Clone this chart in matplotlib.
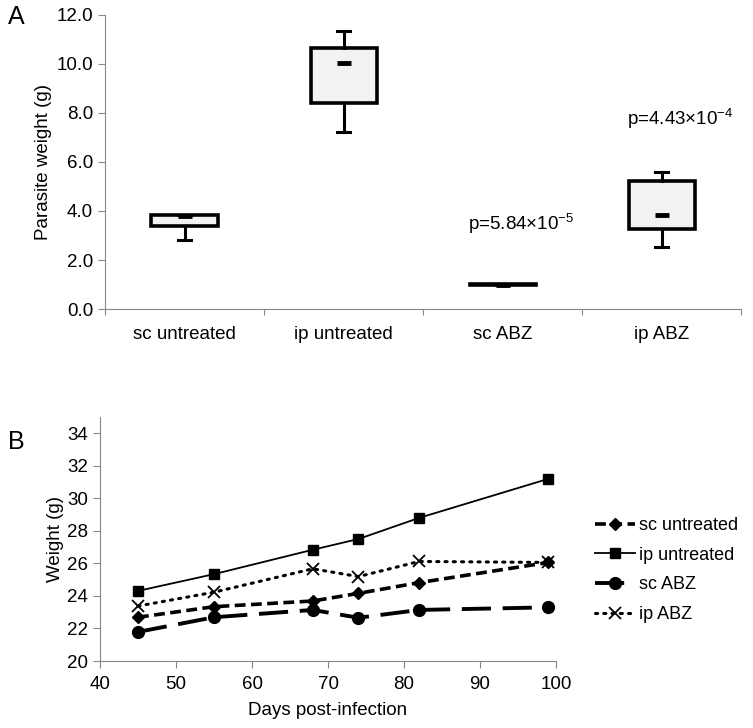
import matplotlib.pyplot as plt
import numpy as np

plt.rcParams['font.family'] = ['Liberation Sans', 'DejaVu Sans']
plt.rcParams['mathtext.fontset'] = 'custom'
plt.rcParams['mathtext.rm'] = 'Liberation Sans'

# panel A: parasite weight box stats
groups = ['sc untreated', 'ip untreated', 'sc ABZ', 'ip ABZ']
q1 = [3.39, 8.41, 0.98, 3.27]
q3 = [3.84, 10.65, 1.03, 5.22]
med = [3.80, 10.04, 1.0, 3.83]
wlo = [2.82, 7.22, 0.98, 2.53]
whi = [3.84, 11.35, 1.03, 5.60]
pvals = {2: r'p=5.84×10$^{-5}$', 3: r'p=4.43×10$^{-4}$'}
p_y = [None, None, 3.5, 7.76]

# panel B: body weight over time
days = [45, 55, 68, 74, 82, 99]
sc_untreated = [22.69, 23.34, 23.69, 24.16, 24.82, 26.06]
ip_untreated = [24.31, 25.34, 26.84, 27.50, 28.80, 31.20]
sc_abz = [21.79, 22.69, 23.14, 22.66, 23.14, 23.30]
ip_abz = [23.38, 24.23, 25.67, 25.19, 26.12, 26.06]

fig = plt.figure(figsize=(7.53, 7.28), dpi=100)
grey = '#888888'
fs = 13.5

# ---- A ----
ax = fig.add_axes([0.1394, 0.5755, 0.845, 0.404])
stats = [dict(med=m, q1=a, q3=b, whislo=lo, whishi=hi, label=g)
         for g, m, a, b, lo, hi in zip(groups, med, q1, q3, wlo, whi)]
ax.bxp(stats, positions=range(4), widths=0.415, showfliers=False, patch_artist=True,
       capwidths=0.08,
       boxprops=dict(facecolor='#f2f2f2', edgecolor='black', linewidth=2.6),
       whiskerprops=dict(color='black', linewidth=2.2),
       capprops=dict(color='black', linewidth=2.2),
       medianprops=dict(linewidth=0))
ax.plot(range(4), med, linestyle='none', marker='_', markersize=10,
        markeredgewidth=3.5, color='black')
for i, txt in pvals.items():
    ax.text(i + 0.115, p_y[i], txt, ha='center', va='center', fontsize=fs)
ax.set_xlim(-0.5, 3.5)
ax.set_ylim(0, 12)
ax.set_yticks(np.arange(0, 12.1, 2))
ax.set_yticklabels(['%.1f' % v for v in np.arange(0, 12.1, 2)])
ax.set_xticks(np.arange(-0.5, 3.6, 1))
ax.set_xticklabels([])
ax.set_xticks(range(4), minor=True)
ax.set_xticklabels(groups, minor=True)
ax.tick_params(axis='x', which='minor', length=0, pad=12, labelsize=fs)
ax.tick_params(axis='x', which='major', length=4, direction='out', color=grey)
ax.tick_params(axis='y', length=5, color=grey, labelsize=fs)
ax.set_ylabel('Parasite weight (g)', fontsize=fs, labelpad=3)
for s in ['top', 'right']:
    ax.spines[s].set_visible(False)
for s in ['left', 'bottom']:
    ax.spines[s].set_color(grey)
fig.text(0.010, 0.976, 'A', fontsize=18, va='center')

# ---- B ----
bx = fig.add_axes([0.1328, 0.092, 0.6056, 0.3352])
bx.plot(days, sc_untreated, color='black', linestyle=(0, (3, 1.5)), linewidth=2.6,
        marker='D', markersize=6.5, label='sc untreated')
bx.plot(days, ip_untreated, color='black', linestyle='-', linewidth=1.3,
        marker='s', markersize=6.5, label='ip untreated')
bx.plot(days, sc_abz, color='black', linestyle=(0, (7.5, 3)), linewidth=2.8,
        marker='o', markersize=8.5, label='sc ABZ')
bx.plot(days, ip_abz, color='black', linestyle=(0, (0.7, 2)), linewidth=2.2,
        dash_capstyle='round', marker='x', markersize=9, markeredgewidth=1.3,
        label='ip ABZ')
bx.set_xlim(40, 100)
bx.set_ylim(20, 35)
bx.set_yticks(range(20, 35, 2))
bx.set_xticks(range(40, 101, 10))
bx.tick_params(length=5, color=grey, labelsize=fs)
bx.tick_params(axis='x', pad=6)
bx.set_xlabel('Days post-infection', fontsize=fs, labelpad=6)
bx.set_ylabel('Weight (g)', fontsize=fs, labelpad=2)
for s in ['top', 'right']:
    bx.spines[s].set_visible(False)
for s in ['left', 'bottom']:
    bx.spines[s].set_color(grey)
fig.legend(loc='center left', bbox_to_anchor=(0.778, 0.217), frameon=False,
           fontsize=13, handlelength=2.2, labelspacing=0.7, handletextpad=0.25,
           borderpad=0)
fig.text(0.010, 0.393, 'B', fontsize=18, va='center')

fig.savefig('out.png', dpi=100)
